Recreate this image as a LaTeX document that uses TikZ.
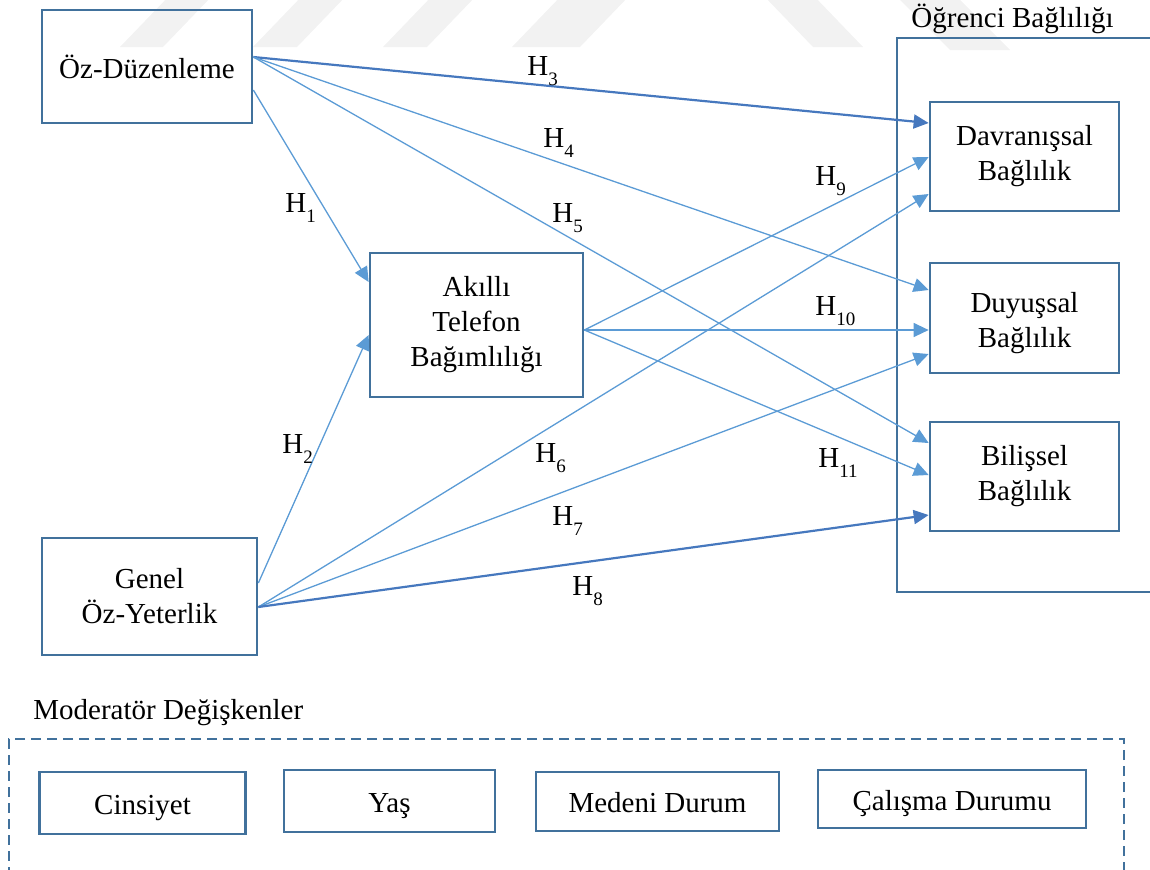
\documentclass[tikz,border=0pt]{standalone}
\usepackage{fontspec}
\setmainfont{Liberation Serif}
\usetikzlibrary{arrows.meta,calc}
\definecolor{boxblue}{RGB}{65,113,156}
\definecolor{lineblue}{RGB}{91,155,213}
\definecolor{darkline}{RGB}{70,120,190}
\definecolor{wmgray}{RGB}{242,242,242}
% hypothesis label: H with a lowered index
\newcommand\hyp[1]{H\raisebox{-5.4pt}{\fontsize{9.5}{9.5}\selectfont #1}}

\begin{document}
\begin{tikzpicture}[x=0.5pt,y=-0.5pt,
  font=\fontsize{14.5}{17.5}\selectfont,
  box/.style={draw=boxblue,line width=1.35pt,align=center,inner sep=0pt},
  modbox/.style={box,text height=11pt,text depth=0pt},
  sz/.style 2 args={minimum width={#1*0.5pt},minimum height={#2*0.5pt}},
  hyparrow/.style={draw=lineblue,line width=0.65pt,-{Triangle[length=7.5pt,width=7pt]}},
  strongarrow/.style={draw=darkline,line width=1.1pt,-{Triangle[length=7.5pt,width=7pt]}},
  hlab/.style={anchor=base west,inner sep=0pt},
  plain/.style={inner sep=0pt},
  ]
\useasboundingbox (0,0) rectangle (1150,869);
\clip (0,0) rectangle (1150,869);

% faint background stripes
\fill[wmgray] (120,47) -- (163,47) -- (213,-5) -- (170,-5) -- cycle;
\fill[wmgray] (253,47) -- (297,47) -- (347,-5) -- (303,-5) -- cycle;
\fill[wmgray] (383,47) -- (427,47) -- (477,-5) -- (433,-5) -- cycle;
\fill[wmgray] (512,47) -- (580,47) -- (630,-5) -- (562,-5) -- cycle;
\fill[wmgray] (813,47) -- (863,47) -- (813,-5) -- (763,-5) -- cycle;
\fill[wmgray] (950,50) -- (1010,50) -- (955,-5) -- (895,-5) -- cycle;

% construct boxes
\node[box,sz={210}{113}] (oz) at (147,66.5) {Öz-Düzenleme};
\node[box,sz={213}{144}] (ak) at (476.5,325) {Akıllı\\Telefon\\Bağımlılığı};
\node[box,sz={215}{117}] (gen) at (149.5,596.5) {Genel\\Öz-Yeterlik};

% engagement group
\node[box,sz={259}{554}] (ogr) at (1026.5,315) {};
\node[plain,anchor=base] (ogrlab) at (1012.5,27) {Öğrenci Bağlılığı};
\node[box,sz={189}{109}] (dav) at (1024.5,156.5) {Davranışsal\\Bağlılık};
\node[box,sz={189}{110}] (duy) at (1024.5,318) {\rule{0pt}{15pt}Duyuşsal\\Bağlılık};
\node[box,sz={189}{109}] (bil) at (1024.5,476.5) {Bilişsel\\Bağlılık};

% hypothesised paths
\draw[hyparrow] ($(oz.east)+(0,23.5)$) -- ($(ak.west)+(0,-43)$);
\draw[hyparrow] ($(gen.east)+(0,-13.5)$) -- ($(ak.west)+(0,10)$);
\draw[strongarrow] ($(oz.east)+(0,-9.5)$) -- ($(dav.west)+(0,-33.5)$);
\draw[hyparrow] ($(oz.east)+(0,-9.5)$) -- ($(duy.west)+(0,-28)$);
\draw[hyparrow] ($(oz.east)+(0,-9.5)$) -- ($(bil.west)+(0,-33.5)$);
\draw[hyparrow] ($(gen.east)+(0,10.5)$) -- ($(dav.west)+(0,37.5)$);
\draw[hyparrow] ($(gen.east)+(0,10.5)$) -- ($(duy.west)+(0,36)$);
\draw[strongarrow] ($(gen.east)+(0,10.5)$) -- ($(bil.west)+(0,38.5)$);
\draw[hyparrow] ($(ak.east)+(0,5)$) -- ($(dav.west)+(0,0.5)$);
\draw[hyparrow] ($(ak.east)+(0,5)$) -- ($(duy.west)+(0,12)$);
\draw[hyparrow] ($(ak.east)+(0,5)$) -- ($(bil.west)+(0,-1.5)$);

% path labels
\node[hlab] (h1) at (285,212) {\hyp{1}};
\node[hlab] (h2) at (282,453) {\hyp{2}};
\node[hlab] (h3) at (527,75) {\hyp{3}};
\node[hlab] (h4) at (543,147) {\hyp{4}};
\node[hlab] (h5) at (552,222) {\hyp{5}};
\node[hlab] (h6) at (535,462) {\hyp{6}};
\node[hlab] (h7) at (552,525) {\hyp{7}};
\node[hlab] (h8) at (572,595) {\hyp{8}};
\node[hlab] (h9) at (815,185) {\hyp{9}};
\node[hlab] (h10) at (815,315) {\hyp{10}};
\node[hlab] (h11) at (818,467) {\hyp{11}};

% moderators
\node[plain,anchor=base west] (modlab) at (33,719) {Moderatör Değişkenler};
\node[draw=boxblue,line width=1.3pt,dash pattern=on 5pt off 3pt,
      sz={1115}{170}] (mod) at (566.5,824) {};
\node[modbox,sz={206}{62}] (cins) at (142.5,803) {Cinsiyet};
\node[modbox,sz={211}{62}] (yas) at (389.5,801) {Yaş};
\node[modbox,sz={243}{59}] (med) at (657.5,801.5) {Medeni Durum};
\node[modbox,sz={268}{58}] (cal) at (952,799) {Çalışma Durumu};
\end{tikzpicture}
\end{document}
